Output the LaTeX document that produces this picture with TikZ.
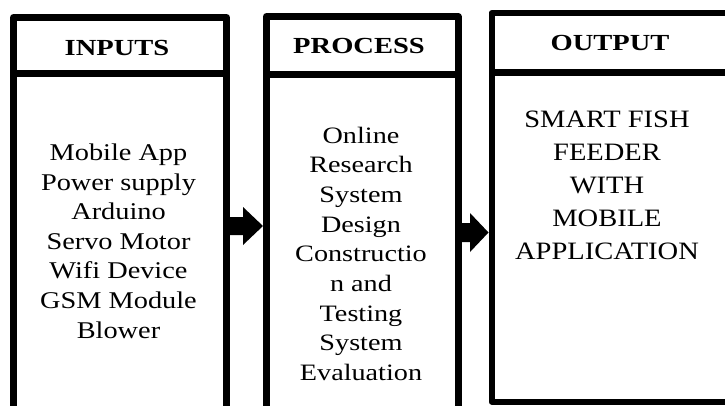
\documentclass[tikz,border=0pt]{standalone}
\usepackage{fontspec}
\setmainfont{Liberation Serif}
\usepackage{graphicx}
\newcommand\stretchlines[2]{\scalebox{#1}[1]{\begin{tabular}[t]{@{}c@{}}#2\end{tabular}}}
\begin{document}
\begin{tikzpicture}[x=1pt,y=-1pt,
  frame/.style={line width=7pt,line join=round,draw=black},
  headtext/.style={anchor=base,inner sep=0pt,font=\fontsize{23}{27}\selectfont\bfseries},
  bodytext/.style={anchor=base,inner sep=0pt},
  arrowshape/.style={fill=black,draw=none}]
\useasboundingbox (0,0) rectangle (725,405);
\clip (0,0) rectangle (725,405);
% boxes
\draw[frame] (13.5,415) -- (13.5,17.5) -- (226.5,17.5) -- (226.5,415);
\draw[frame] (13.5,73.5) -- (226.5,73.5);
\draw[frame] (266.5,415) -- (266.5,16.5) -- (458,16.5) -- (458,415);
\draw[frame] (266.5,74.5) -- (458,74.5);
\draw[frame,line width=6pt] (740,13) -- (491.5,13) -- (491.5,401.5) -- (740,401.5);
\draw[frame,line width=7pt] (491.5,72) -- (740,72);
% headers
\node[headtext] (h1) at (117,55) {\scalebox{1.24}[1]{INPUTS}};
\node[headtext] (h2) at (359,53) {\scalebox{1.24}[1]{PROCESS}};
\node[headtext] (h3) at (610,50) {\scalebox{1.24}[1]{OUTPUT}};
% bodies
\node[bodytext,font=\fontsize{24}{29.6}\selectfont] (b1) at (118.5,160.5)
  {\stretchlines{1.18}{Mobile App\\Power supply\\Arduino\\Servo Motor\\Wifi Device\\GSM Module\\Blower}};
\node[bodytext,font=\fontsize{23.5}{29.7}\selectfont] (b2) at (361,143)
  {\stretchlines{1.2}{Online\\Research\\System\\Design\\Constructio\\n and\\Testing\\System\\Evaluation}};
\node[bodytext,font=\fontsize{25}{33.2}\selectfont] (b3) at (607,127)
  {\stretchlines{1.14}{SMART FISH\\FEEDER\\WITH\\MOBILE\\APPLICATION}};
% arrows
\fill[arrowshape] (229,217) -- (243,217) -- (243,207) -- (263,226) -- (243,245) -- (243,235) -- (229,235) -- cycle;
\fill[arrowshape] (460,223) -- (470,223) -- (470,213) -- (488.5,232.5) -- (470,252) -- (470,242) -- (460,242) -- cycle;
\end{tikzpicture}
\end{document}
